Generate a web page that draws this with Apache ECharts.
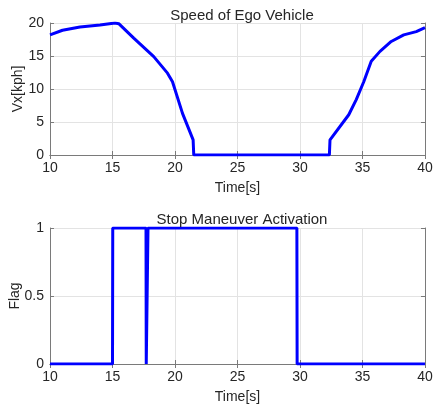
<!DOCTYPE html>
<html>
<head>
<meta charset="utf-8">
<script src="https://cdn.jsdelivr.net/npm/echarts@6/dist/echarts.min.js"></script>
<style>
  html, body { margin: 0; padding: 0; background: #fff; }
  #chart { width: 441px; height: 410px; }
</style>
</head>
<body>
<div id="chart"></div>
<script>
// speed of ego vehicle, [time s, kph]
const speedTime = [10, 11, 12.4, 14, 15.2, 15.5, 16.7, 18.3, 19.4, 19.8, 20.6, 21.45, 21.5, 32.35, 32.4, 33.9, 34.5, 35.1, 35.7, 36.4, 37.3, 38.3, 39.3, 40]
const speedVx = [18.2, 18.9, 19.4, 19.7, 20, 19.9, 17.7, 14.9, 12.4, 11.1, 6.3, 2.3, 0, 0, 2.3, 6.1, 8.4, 11.1, 14.2, 15.7, 17.2, 18.2, 18.7, 19.3]
// stop maneuver flag
const flagTime = [10, 15.0, 15.02, 17.68, 17.7, 17.82, 17.84, 29.75, 29.77, 40]
const flagValue = [0, 0, 1, 1, 0, 0, 1, 1, 0, 0]
const xTicks = [10, 15, 20, 25, 30, 35, 40]

const textColor = '#262626'
const frameColor = '#7a7a7a'
const lineBlue = '#0000ff'
const font = 'Liberation Sans'

function zip(a, b) {
  return a.map((v, i) => [v, b[i]])
}

function bottomAxis(gridIndex) {
  return {
    type: 'value',
    gridIndex: gridIndex,
    min: xTicks[0],
    max: xTicks[xTicks.length - 1],
    interval: xTicks[1] - xTicks[0],
    name: 'Time[s]',
    nameLocation: 'middle',
    nameGap: 26,
    nameMoveOverlap: false,
    nameTextStyle: { color: textColor, fontSize: 14, fontFamily: font },
    axisLine: { show: true, onZero: false, lineStyle: { color: frameColor } },
    axisTick: { show: true, inside: true, length: 4, lineStyle: { color: frameColor } },
    axisLabel: { color: textColor, fontSize: 14, fontFamily: font, margin: 6 },
    splitLine: { show: true, lineStyle: { color: '#e3e3e3' } }
  }
}

function topAxis(gridIndex) {
  return {
    type: 'value',
    gridIndex: gridIndex,
    position: 'top',
    min: xTicks[0],
    max: xTicks[xTicks.length - 1],
    interval: xTicks[1] - xTicks[0],
    axisLine: { show: true, lineStyle: { color: frameColor } },
    axisTick: { show: true, inside: true, length: 4, lineStyle: { color: frameColor } },
    axisLabel: { show: false },
    splitLine: { show: false }
  }
}

function leftAxis(gridIndex, name, max, interval, gap) {
  return {
    type: 'value',
    gridIndex: gridIndex,
    min: 0,
    max: max,
    interval: interval,
    name: name,
    nameLocation: 'middle',
    nameGap: gap,
    nameMoveOverlap: false,
    nameTextStyle: { color: textColor, fontSize: 14, fontFamily: font },
    axisLine: { show: true, lineStyle: { color: frameColor } },
    axisTick: { show: true, inside: true, length: 4, lineStyle: { color: frameColor } },
    axisLabel: { color: textColor, fontSize: 14, fontFamily: font, margin: 6 },
    splitLine: { show: true, lineStyle: { color: '#e3e3e3' } }
  }
}

function rightAxis(gridIndex, max, interval) {
  return {
    type: 'value',
    gridIndex: gridIndex,
    position: 'right',
    min: 0,
    max: max,
    interval: interval,
    axisLine: { show: true, lineStyle: { color: frameColor } },
    axisTick: { show: true, inside: true, length: 4, lineStyle: { color: frameColor } },
    axisLabel: { show: false },
    splitLine: { show: false }
  }
}

const chart = echarts.init(document.getElementById('chart'))
chart.setOption({
  backgroundColor: '#fff',
  animation: false,
  title: [
    {
      text: 'Speed of Ego Vehicle',
      left: 237, top: 3, textAlign: 'center',
      textStyle: { color: textColor, fontSize: 15, fontWeight: 'normal', fontFamily: font }
    },
    {
      text: 'Stop Maneuver Activation',
      left: 237, top: 207, textAlign: 'center',
      textStyle: { color: textColor, fontSize: 15, fontWeight: 'normal', fontFamily: font }
    }
  ],
  grid: [
    { left: 50, right: 16, top: 23, height: 132, outerBoundsMode: 'none' },
    { left: 50, right: 16, top: 228, height: 136, outerBoundsMode: 'none' }
  ],
  xAxis: [bottomAxis(0), topAxis(0), bottomAxis(1), topAxis(1)],
  yAxis: [
    leftAxis(0, 'Vx[kph]', 20, 5, 25),
    rightAxis(0, 20, 5),
    leftAxis(1, 'Flag', 1, 0.5, 28),
    rightAxis(1, 1, 0.5)
  ],
  series: [
    {
      type: 'line',
      xAxisIndex: 0,
      yAxisIndex: 0,
      data: zip(speedTime, speedVx),
      showSymbol: false,
      lineStyle: { color: lineBlue, width: 3 }
    },
    {
      type: 'line',
      xAxisIndex: 2,
      yAxisIndex: 2,
      data: zip(flagTime, flagValue),
      showSymbol: false,
      lineStyle: { color: lineBlue, width: 3 }
    }
  ]
})
</script>
</body>
</html>
